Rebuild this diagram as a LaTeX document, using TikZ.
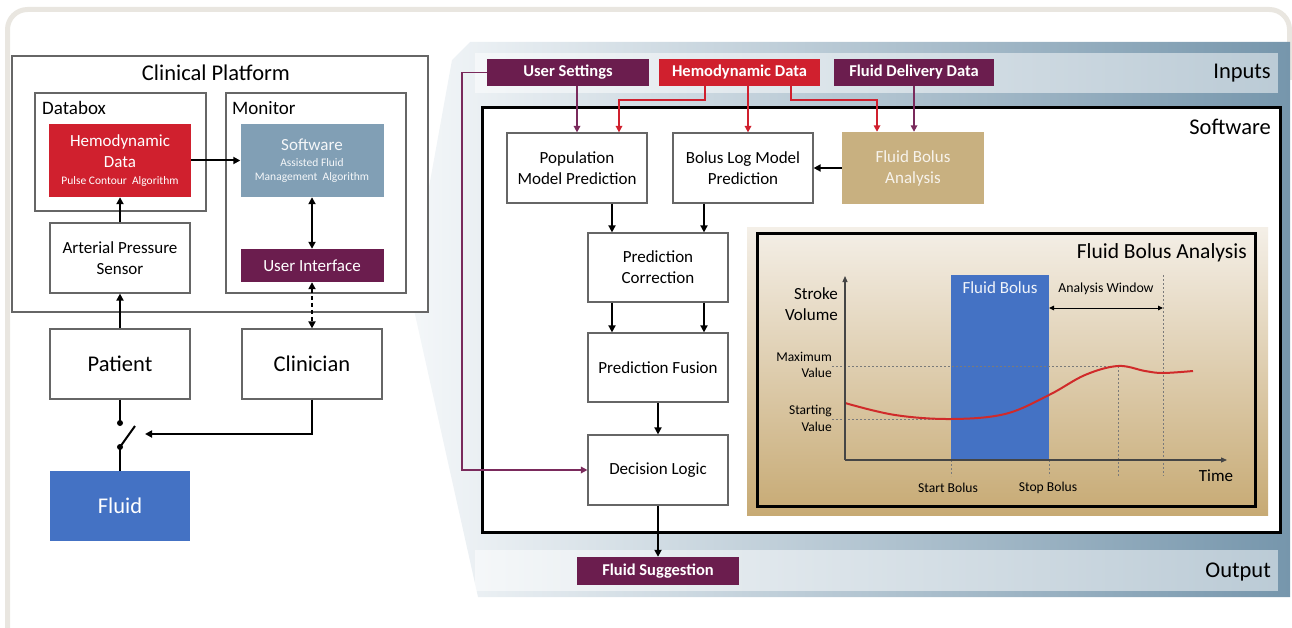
\documentclass[tikz,border=0pt]{standalone}
\usepackage{fontspec}
\setmainfont{Carlito}
\usetikzlibrary{arrows.meta,calc}
\definecolor{cpurple}{HTML}{6B1D4E}
\definecolor{cpurpleline}{HTML}{7A2A5C}
\definecolor{cred}{HTML}{D0202E}
\definecolor{cblue}{HTML}{4472C4}
\definecolor{csoft}{HTML}{819FB5}
\definecolor{ctan}{HTML}{C8B080}
\definecolor{ctandark}{HTML}{C7AA74}
\definecolor{ctanmid}{HTML}{DCCAA6}
\definecolor{ctanlight}{HTML}{F4EFE7}
\definecolor{cframe}{HTML}{E9E6E0}
\definecolor{cpanel}{HTML}{7696AC}
\definecolor{cpanelmid}{HTML}{A3B7C6}
\definecolor{cpanellight}{HTML}{F4F7F9}
\definecolor{cborder}{HTML}{666666}
\definecolor{caxis}{HTML}{454545}
\definecolor{cdash}{HTML}{7A7A7A}
\definecolor{ccurve}{HTML}{D02A2A}
\tikzset{
  fbig/.style={font=\fontsize{22.5}{26}\selectfont},
  fmid/.style={font=\fontsize{17}{21}\selectfont},
  wbox/.style={draw=cborder, line width=1.2pt, fill=white, inner sep=0pt, align=center, fmid},
  cbox/.style={draw=none, inner sep=0pt, align=center, fmid},
  inbox/.style={draw=none, fill=cpurple, text=white, inner sep=0pt, align=center,
     font=\fontsize{16.5}{20}\selectfont\bfseries, minimum height=27pt},
  arr/.style={-{Triangle[length=7pt,width=7pt]}, line width=2pt},
  darr/.style={{Triangle[length=7pt,width=7pt]}-{Triangle[length=7pt,width=7pt]}, line width=2pt},
  redarr/.style={draw=cred, line width=1.6pt, -{Triangle[length=6.5pt,width=6.5pt]}},
  purarr/.style={draw=cpurpleline, line width=1.6pt, -{Triangle[length=6.5pt,width=6.5pt]}},
  dashln/.style={draw=cdash, line width=0.8pt, dash pattern=on 2pt off 2pt},
  clab/.style={inner sep=0pt, align=right, font=\fontsize{13.5}{16.5}\selectfont},
}
\begin{document}
\begin{tikzpicture}[x=1pt,y=-1pt]
\useasboundingbox (0,0) rectangle (1292,628);
\clip (0,0) rectangle (1292,628);
% outer frame
\draw[cframe, line width=5pt, rounded corners=20pt] (7.5,700) -- (7.5,9.5) -- (1289.5,9.5) -- (1289.5,80);
% big panel
\shade[left color=cpanellight, middle color=cpanelmid, right color=cpanel] (470,42) -- (1290,42) -- (1290,597) -- (478,597) -- (410,292) -- (452,60) -- cycle;
\fill[white, opacity=0.5] (475,53) rectangle (1278,93);
\fill[white, opacity=0.5] (475,550) rectangle (1278,591);
\node[anchor=east, fbig, inner sep=0pt] (tin) at (1271,73) {Inputs};
\node[anchor=east, fbig, inner sep=0pt] (tout) at (1271,572) {Output};
% software box
\node[draw=black, line width=3pt, fill=white, minimum width=798pt, minimum height=424pt, inner sep=0pt] (swbox) at (881,320) {};
\node[anchor=east, fbig, inner sep=0pt] (tsw) at (1271,127) {Software};

% ---------- left side ----------
\node[draw=cborder, line width=1.2pt, fill=white, minimum width=416pt, minimum height=256pt, inner sep=0pt] (cp) at (220,184) {};
\node[fbig, inner sep=0pt] (cpt) at (216,73) {Clinical Platform};
\node[draw=cborder, line width=1.2pt, minimum width=171pt, minimum height=118pt, inner sep=0pt] (databox) at (120.5,152) {};
\node[anchor=west, inner sep=0pt, font=\fontsize{19}{22}\selectfont] (dbt) at (42,108) {Databox};
\node[draw=cborder, line width=1.2pt, minimum width=180pt, minimum height=200pt, inner sep=0pt] (monitor) at (316,193) {};
\node[anchor=west, inner sep=0pt, font=\fontsize{19}{22}\selectfont] (mt) at (232,108) {Monitor};
\node[cbox, fill=cred, text=white, minimum width=142pt, minimum height=73pt] (heml) at (120,160.5)
  {Hemodynamic\\Data\\[-4pt]\fontsize{11.5}{13}\selectfont Pulse Contour\ \ Algorithm};
\node[cbox, fill=csoft, text=white!92!csoft, minimum width=143pt, minimum height=73pt,
  font=\fontsize{11.5}{14}\selectfont] (swl) at (312,160.5)
  {{\fontsize{17}{20}\selectfont Software}\\[2pt]Assisted Fluid\\Management\ \ Algorithm};
\node[cbox, fill=cpurple, text=white, minimum width=143pt, minimum height=33pt] (ui) at (312,265.5) {User Interface};
\node[wbox, minimum width=140pt, minimum height=70pt] (aps) at (120,258) {Arterial Pressure\\Sensor};
\node[wbox, fbig, minimum width=140pt, minimum height=70pt] (patient) at (120,364) {Patient};
\node[wbox, fbig, minimum width=140pt, minimum height=70pt] (clinician) at (312,364) {Clinician};
\node[cbox, fbig, fill=cblue, text=white, minimum width=140pt, minimum height=70pt] (fluid) at (120,506) {Fluid};
\node[circle, fill=black, inner sep=0pt, minimum size=6pt] (d1) at (120,423) {};
\node[circle, fill=black, inner sep=0pt, minimum size=6pt] (d2) at (120,447) {};
\coordinate (blade) at (135,426);
\coordinate (swin) at (145,434);

\draw[arr] (aps.north) -- (heml.south);
\draw[arr] (heml.east) -- (swl.west);
\draw[darr] (swl.south) -- (ui.north);
\draw[arr] (patient.north) -- (aps.south);
\draw[darr, dash pattern=on 4pt off 3pt] (ui.south) -- (clinician.north);
\draw[line width=2pt] (patient.south) -- (d1.center);
\draw[line width=2pt] (d2.center) -- (blade);
\draw[line width=2pt] (d2.center) -- (fluid.north);
\draw[arr] (clinician.south) |- (swin);

% ---------- right side ----------
\node[inbox, minimum width=162pt] (us) at (568,72.5) {User Settings};
\node[inbox, fill=cred, minimum width=161pt] (hd) at (739.5,72.5) {Hemodynamic Data};
\node[inbox, minimum width=160pt] (fdd) at (914,72.5) {Fluid Delivery Data};
\node[wbox, minimum width=140pt, minimum height=70pt] (pop) at (577,168) {Population\\Model Prediction};
\node[wbox, minimum width=140pt, minimum height=70pt] (blm) at (743,168) {Bolus Log Model\\Prediction};
\node[cbox, fill=ctan, text=white!85!ctan, minimum width=142pt, minimum height=72pt] (fba) at (913,168) {Fluid Bolus\\Analysis};
\node[wbox, minimum width=140pt, minimum height=69pt] (pc) at (658,267.5) {Prediction\\Correction};
\node[wbox, minimum width=140pt, minimum height=69pt] (pf) at (658,367.5) {Prediction Fusion};
\node[wbox, minimum width=140pt, minimum height=70pt] (dl) at (658,470) {Decision Logic};
\node[inbox, minimum width=162pt, minimum height=28pt] (fs) at (658,571) {Fluid Suggestion};

\draw[purarr] (us.south -| pop.north) -- (pop.north);
\draw[redarr] ($(hd.south)+(-34.5,0)$) -- ++(0,14) -| ($(pop.north)+(42,0)$);
\draw[redarr] ($(hd.south)+(8.5,0)$) -- ($(blm.north)+(5,0)$);
\draw[redarr] ($(hd.south)+(51.5,0)$) -- ++(0,14) -| ($(fba.north)+(-36,0)$);
\draw[purarr] (fdd.south) -- (fdd.south |- fba.north);
\draw[arr] (fba.west) -- (blm.east);
\draw[arr] ($(pop.south)+(35,0)$) -- ($(pc.north)+(-46,0)$);
\draw[arr] ($(blm.south)+(-39,0)$) -- ($(pc.north)+(46,0)$);
\draw[arr] ($(pc.south)+(-46,0)$) -- ($(pf.north)+(-46,0)$);
\draw[arr] ($(pc.south)+(46,0)$) -- ($(pf.north)+(46,0)$);
\draw[arr] (pf.south) -- (dl.north);
\draw[arr] (dl.south) -- (fs.north);
\draw[purarr] (us.west) -- ++(-25,0) |- (dl.west);

% ---------- chart ----------
\shade[top color=ctanlight, middle color=ctanmid, bottom color=ctandark] (747,228) rectangle (1268,515);
\draw[black, line width=3pt] (757,234) rectangle (1255,506);
\node[anchor=east, inner sep=0pt, font=\fontsize{21.5}{24}\selectfont] (fbat) at (1247,253) {Fluid Bolus Analysis};
\fill[cblue] (951,275) rectangle (1049,460);
\node[inner sep=0pt, text=white!92!cblue, font=\fontsize{17}{20}\selectfont] (fbl) at (1000,288) {Fluid Bolus};
\draw[dashln] (832,366) -- (1118,366);
\draw[dashln] (832,419) -- (951,419);
\draw[dashln] (951,460) -- (951,476);
\draw[dashln] (1049,460) -- (1049,476);
\draw[dashln] (1118,366) -- (1118,476);
\draw[dashln] (1163,275) -- (1163,476);
\draw[ccurve, line width=2pt] plot[smooth, tension=0.6] coordinates
  {(845,403) (895,415) (951,419) (1005,414) (1049,395) (1085,375) (1118,366) (1145,371) (1163,373) (1193,371)};
\draw[caxis, line width=1.2pt, -{Triangle[length=6pt,width=5pt]}] (845,460) -- (845,276);
\draw[caxis, line width=1.2pt, -{Triangle[length=6pt,width=5pt]}] (845,460) -- (1227,460);
\draw[black, line width=1pt, {Triangle[length=5pt,width=4.5pt]}-{Triangle[length=5pt,width=4.5pt]}] (1049,308) -- (1163,308);
\node[inner sep=0pt, font=\fontsize{13.8}{16}\selectfont] (aw) at (1106,289) {Analysis Window};
\node[anchor=east, inner sep=0pt, align=right, font=\fontsize{17}{21}\selectfont] (sv) at (838,304) {Stroke\\Volume};
\node[anchor=east, clab] (mv) at (832,365) {Maximum\\Value};
\node[anchor=east, clab] (stv) at (832,418.5) {Starting\\Value};
\node[inner sep=0pt, font=\fontsize{13.6}{16}\selectfont] (sb) at (948,488) {Start Bolus};
\node[inner sep=0pt, font=\fontsize{13.6}{16}\selectfont] (stb) at (1048,488) {Stop Bolus};
\node[inner sep=0pt, font=\fontsize{17}{20}\selectfont] (tm) at (1216,476) {Time};
\end{tikzpicture}
\end{document}
